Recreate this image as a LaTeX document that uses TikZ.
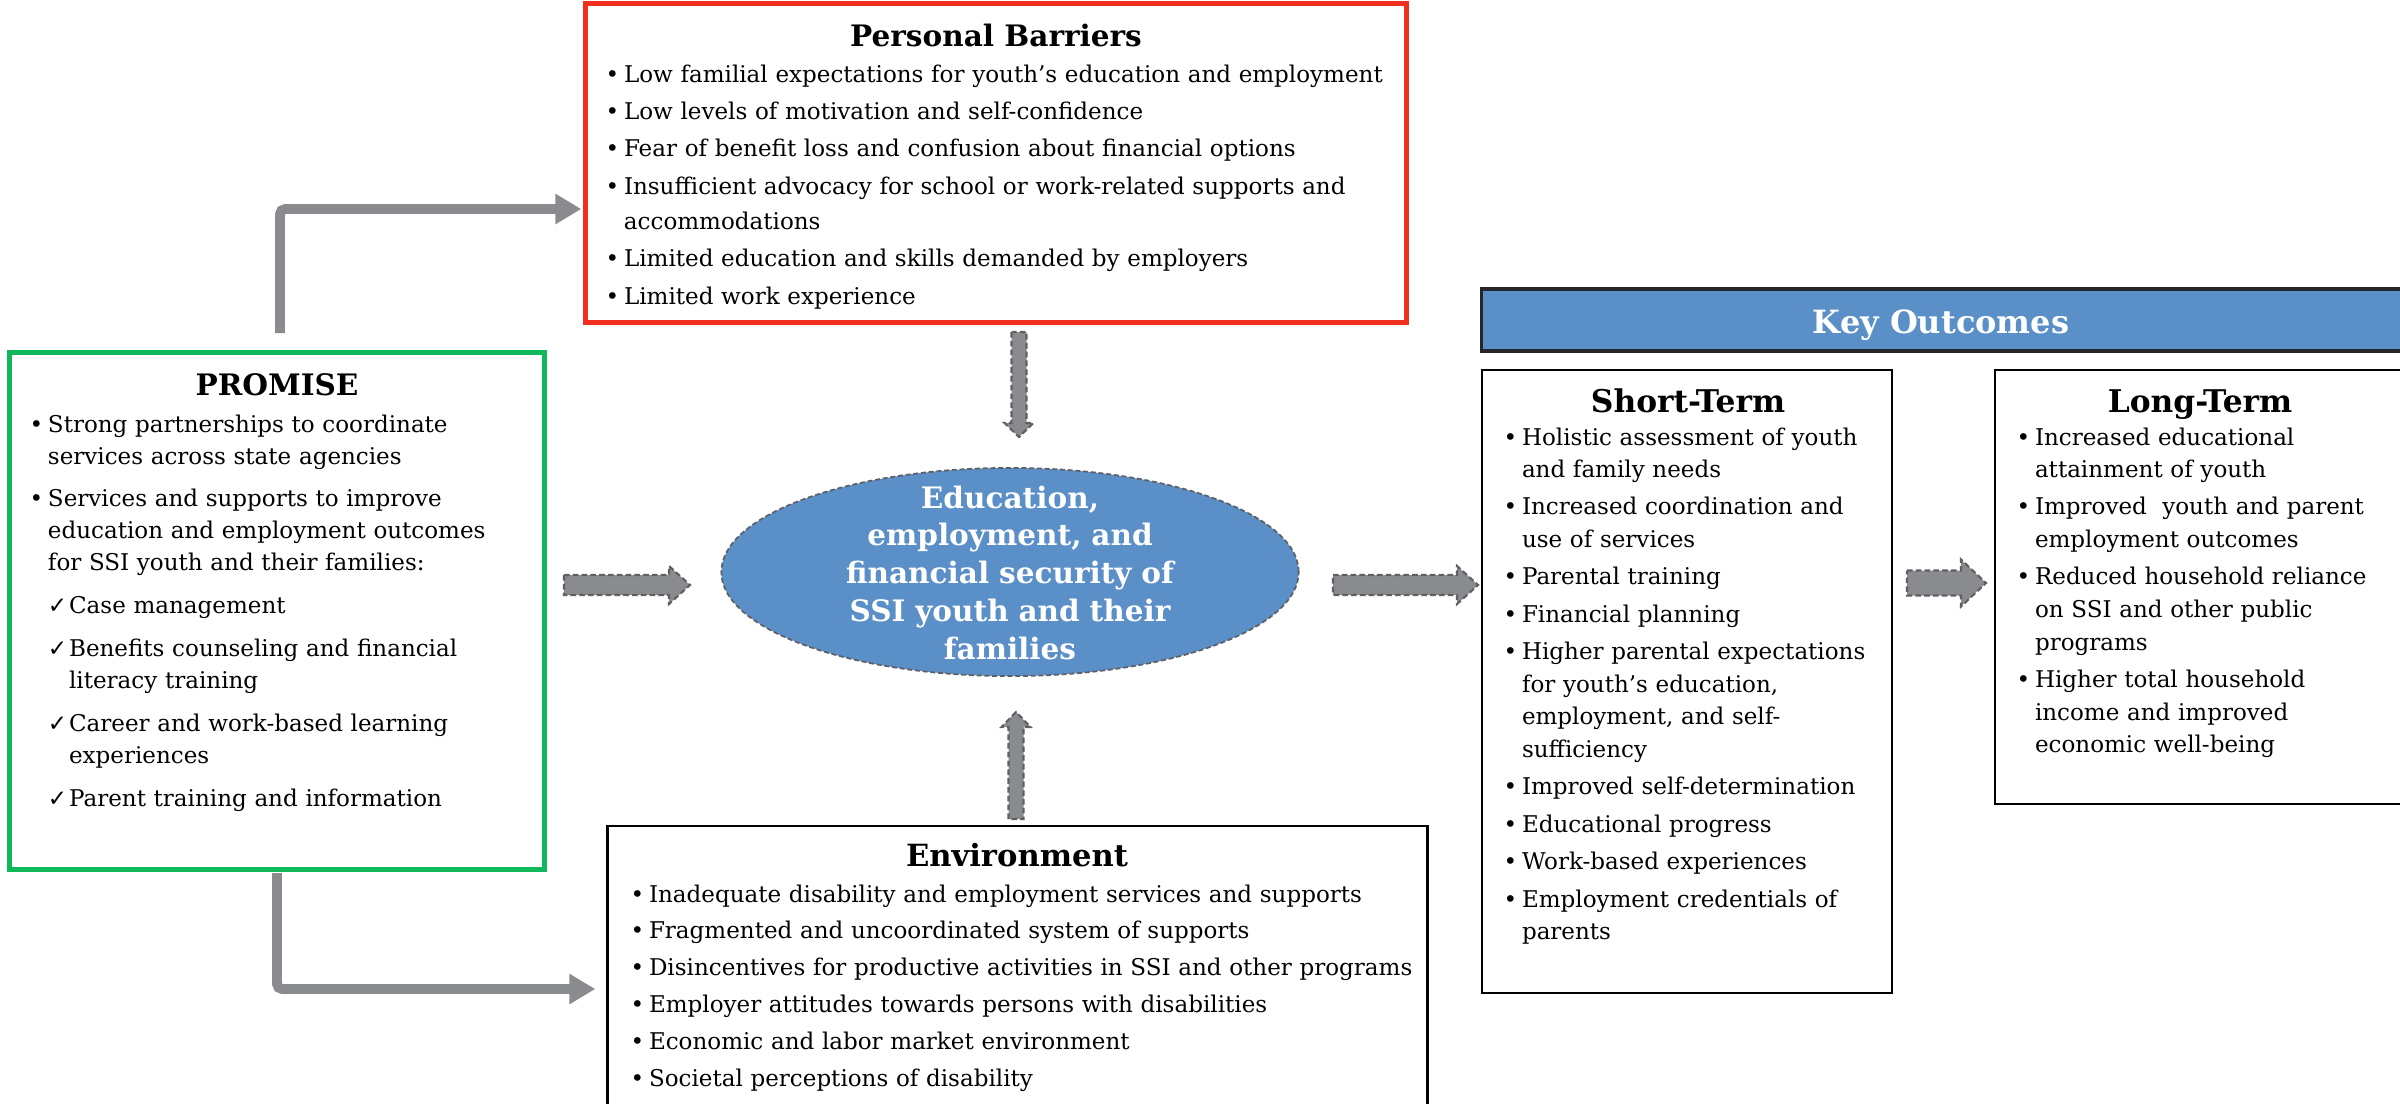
\documentclass[tikz,border=0pt]{standalone}
\usepackage{fontspec}
\setmainfont{DejaVu Serif}
\newfontfamily\symfont{DejaVu Sans}
\usetikzlibrary{calc,arrows.meta,shapes.geometric}
\definecolor{blueF}{HTML}{5B8FC7}
\definecolor{grayA}{HTML}{8A8B8F}
\definecolor{grayD}{HTML}{5F6064}
\definecolor{redB}{HTML}{F2301E}
\definecolor{greenB}{HTML}{10B85C}
\newlength\bulind
\newlength\chkind
\setlength\bulind{5.2pt}
\setlength\chkind{6pt}
\newcommand{\bitem}[1]{{\leftskip=0pt\hangindent=\bulind\hangafter=1\noindent\makebox[\bulind][l]{\textbullet}#1\par}}
\newcommand{\citem}[1]{{\leftskip=\bulind\hangindent=\chkind\hangafter=1\noindent\makebox[\chkind][l]{\symfont ✓}#1\par}}
\newcommand{\rblk}[6]{\draw[blk] (#1,#3-#4) -- (#2-#6,#3-#4) -- (#2-#6,#3-#5) -- (#2,#3) -- (#2-#6,#3+#5) -- (#2-#6,#3+#4) -- (#1,#3+#4) -- cycle;}
\newcommand{\dblk}[6]{\draw[blk] (#1-#4,#2) -- (#1-#4,#3-#6) -- (#1-#5,#3-#6) -- (#1,#3) -- (#1+#5,#3-#6) -- (#1+#4,#3-#6) -- (#1+#4,#2) -- cycle;}
\newcommand{\ublk}[6]{\draw[blk] (#1-#4,#2) -- (#1-#4,#3+#6) -- (#1-#5,#3+#6) -- (#1,#3) -- (#1+#5,#3+#6) -- (#1+#4,#3+#6) -- (#1+#4,#2) -- cycle;}
\tikzset{
  boxshape/.style={draw, fill=white, inner sep=0pt, anchor=center},
  listtext/.style={anchor=base west, inner sep=0pt, text width=#1, align=left},
  ttl/.style={anchor=base, inner sep=0pt, font={\fontsize{#1}{#1}\selectfont\bfseries}},
  blk/.style={fill=grayA, draw=grayD, line width=0.6pt, dash pattern=on 1.6pt off 0.9pt},
  elbow/.style={draw=grayA, line width=2.8pt, rounded corners=1.5pt, -{Triangle[length=7.4pt,width=8.2pt]}},
}
\begin{document}
\begin{tikzpicture}[x=0.01cm,y=-0.01cm]
\useasboundingbox (0,0) rectangle (2400,1103);
\clip (0,0) rectangle (2400,1103);
\fill[white] (0,0) rectangle (2400,1103);

% boxes
\node[boxshape, draw=redB, line width=1.4pt, minimum width=8.20cm, minimum height=3.18cm] (barriers) at (996,163) {};
\node[boxshape, draw=greenB, line width=1.4pt, minimum width=5.34cm, minimum height=5.16cm] (promise) at (277,611) {};
\node[boxshape, draw=black, line width=0.8pt, minimum width=8.19cm, minimum height=2.94cm] (env) at (1017.5,973) {};
\node[boxshape, draw=black!85, fill=blueF, line width=0.9pt, minimum width=9.19cm, minimum height=0.62cm] (hdr) at (1941.5,320) {};
\node[boxshape, draw=black, line width=0.7pt, minimum width=4.10cm, minimum height=6.23cm] (short) at (1687,681.5) {};
\node[boxshape, draw=black, line width=0.7pt, minimum width=4.15cm, minimum height=4.34cm] (long) at (2202.5,587) {};
\node[ellipse, fill=blueF, draw=grayD, line width=0.5pt, dash pattern=on 1.4pt off 0.8pt, minimum width=5.77cm, minimum height=2.08cm, inner sep=0pt] (core) at (1010,572) {};

% titles
\node[ttl=8.4] (tb) at (996,47) {Personal Barriers};
\node[ttl=8.4] (tp) at (277,395) {PROMISE};
\node[ttl=8.7] (te) at (1017,866) {Environment};
\node[ttl=9.1, text=white] (th) at (1941,333) {Key Outcomes};
\node[ttl=8.9] (ts) at (1688,412) {Short-Term};
\node[ttl=8.9] (tl) at (2200,412) {Long-Term};

\node[anchor=base, inner sep=0pt, text width=5.2cm, align=center, text=white, font={\fontsize{8.4}{10.8}\selectfont\bfseries}] (coretext) at (1010,508) {Education,\\employment, and\\financial security of\\SSI youth and their\\families};

% lists
\node[listtext=7.9cm, font={\fontsize{6.55}{9.96}\selectfont}] (lb) at (605,82) {\setlength\parskip{0.7pt}%
\bitem{Low familial expectations for youth’s education and employment}%
\bitem{Low levels of motivation and self-confidence}%
\bitem{Fear of benefit loss and confusion about financial options}%
\bitem{Insufficient advocacy for school or work-related supports and\newline accommodations}%
\bitem{Limited education and skills demanded by employers}%
\bitem{Limited work experience}};

\node[listtext=5.1cm, font={\fontsize{6.55}{9.1}\selectfont}] (lp) at (29,432) {\setlength\parskip{3.1pt}%
\bitem{Strong partnerships to coordinate\newline services across state agencies}%
\bitem{Services and supports to improve\newline education and employment outcomes\newline for SSI youth and their families:}%
\citem{Case management}%
\citem{Benefits counseling and financial\newline literacy training}%
\citem{Career and work-based learning\newline experiences}%
\citem{Parent training and information}};

\node[listtext=7.9cm, font={\fontsize{6.55}{10.5}\selectfont}] (le) at (630,902) {\setlength\parskip{0pt}%
\bitem{Inadequate disability and employment services and supports}%
\bitem{Fragmented and uncoordinated system of supports}%
\bitem{Disincentives for productive activities in SSI and other programs}%
\bitem{Employer attitudes towards persons with disabilities}%
\bitem{Economic and labor market environment}%
\bitem{Societal perceptions of disability}};

\node[listtext=3.9cm, font={\fontsize{6.55}{9.25}\selectfont}] (ls) at (1503,445) {\setlength\parskip{1.4pt}%
\bitem{Holistic assessment of youth\newline and family needs}%
\bitem{Increased coordination and\newline use of services}%
\bitem{Parental training}%
\bitem{Financial planning}%
\bitem{Higher parental expectations\newline for youth’s education,\newline employment, and self-\newline sufficiency}%
\bitem{Improved self-determination}%
\bitem{Educational progress}%
\bitem{Work-based experiences}%
\bitem{Employment credentials of\newline parents}};

\node[listtext=3.9cm, font={\fontsize{6.55}{9.25}\selectfont}] (ll) at (2016,445) {\setlength\parskip{1.4pt}%
\bitem{Increased educational\newline attainment of youth}%
\bitem{Improved\ \ youth and parent\newline employment outcomes}%
\bitem{Reduced household reliance\newline on SSI and other public\newline programs}%
\bitem{Higher total household\newline income and improved\newline economic well-being}};

% elbow connectors
\coordinate (e1s) at (280,333);
\coordinate (e2s) at (277,873);
\draw[elbow] (e1s) |- ($(barriers.west)+(-2,46)$);
\draw[elbow] (e2s) |- ($(env.west)+(-11,16)$);

% block arrows
\rblk{564}{690}{585}{10}{19}{21}
\rblk{1333}{1478}{585}{10}{19}{21}
\rblk{1907}{1986}{583}{12.5}{23.5}{25}
\dblk{1019}{332}{437}{7.5}{14.5}{14}
\ublk{1016}{819}{712}{7.5}{14.5}{15}
\end{tikzpicture}
\end{document}
